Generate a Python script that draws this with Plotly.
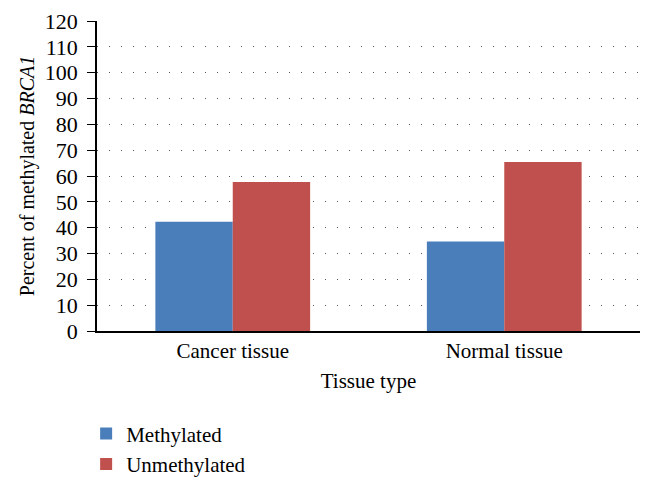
import plotly.graph_objects as go

categories = ["Cancer tissue", "Normal tissue"]
methylated = [42.3, 34.6]
unmethylated = [57.7, 65.4]
y_ticks = list(range(0, 121, 10))

font_family = "Liberation Serif, DejaVu Serif, serif"

fig = go.Figure()
fig.add_trace(go.Bar(name="Methylated", x=categories, y=methylated,
                     marker=dict(color="#4A7EBB", line=dict(width=0))))
fig.add_trace(go.Bar(name="Unmethylated", x=categories, y=unmethylated,
                     marker=dict(color="#C0504D", line=dict(width=0))))

fig.update_layout(
    width=653, height=489,
    barmode="group", bargap=0.43, bargroupgap=0,
    plot_bgcolor="white", paper_bgcolor="white",
    margin=dict(l=89, r=21, t=13, b=166, autoexpand=False),
    font=dict(family=font_family, size=21, color="black"),
    xaxis=dict(
        showline=True, linecolor="black", linewidth=1.5,
        ticks="", showgrid=False, automargin=False,
        title=dict(text="Tissue type", font=dict(size=21), standoff=11),
        tickfont=dict(size=21),
    ),
    yaxis=dict(
        range=[0, 120], tickvals=y_ticks, automargin=False,
        showline=True, linecolor="black", linewidth=1.5,
        ticks="outside", ticklen=8, tickcolor="black", tickwidth=1.2,
        ticklabelstandoff=5,
        showgrid=True, gridcolor="#555555", gridwidth=1.3, griddash="1.3px,10.7px",
        zeroline=False,
        title=dict(text="Percent of methylated <i>BRCA1</i>", font=dict(size=20), standoff=5),
        tickfont=dict(size=22),
    ),
    legend=dict(
        orientation="v", x=-0.02, xanchor="left", y=-0.266, yanchor="top",
        font=dict(size=21), traceorder="normal", itemwidth=30,
        tracegroupgap=3,
    ),
)

fig.write_html("out.html")
